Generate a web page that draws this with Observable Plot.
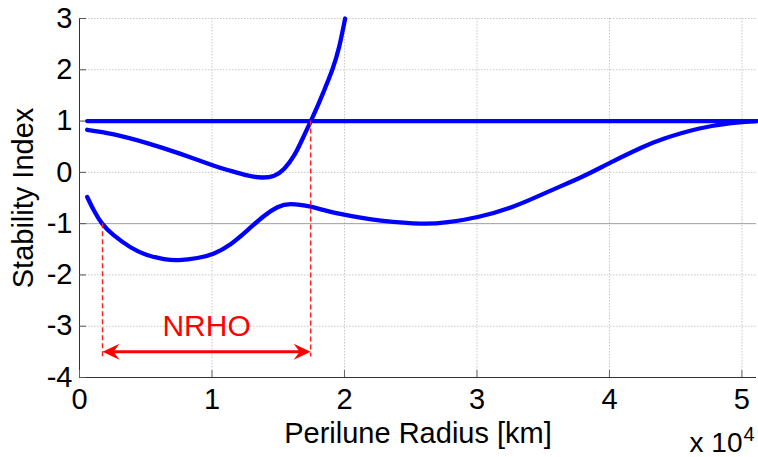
<!DOCTYPE html>
<html><head><meta charset="utf-8">
<script src="https://cdn.jsdelivr.net/npm/d3@7"></script>
<script src="https://cdn.jsdelivr.net/npm/@observablehq/plot@0.6"></script>
<style>body{margin:0;background:#fff} svg{display:block}</style>
</head><body><div id="chart"></div>
<script>
// x in units of 10^4 km
const xTicks = [0, 1, 2, 3, 4, 5];
const yTicks = [-4, -3, -2, -1, 0, 1, 2, 3];
const xDomain = [0, 5.11];
const yDomain = [-4, 3];

const flatX = [0.058, 5.11];
const flatY = [1, 1];

const upperX = [0.058, 0.26, 0.51, 0.763, 1.015, 1.14, 1.267, 1.38, 1.47, 1.545, 1.62, 1.683, 1.746, 1.80, 1.85, 1.908, 1.96, 2.005];
const upperY = [0.83, 0.74, 0.57, 0.36, 0.13, 0.03, -0.06, -0.10, -0.065, 0.07, 0.33, 0.65, 1.0, 1.31, 1.62, 2.0, 2.45, 3.0];

const lowerX = [0.058, 0.108, 0.171, 0.26, 0.385, 0.51, 0.637, 0.75, 0.89, 1.015, 1.14, 1.267, 1.393, 1.494, 1.595, 1.746, 1.897, 2.11, 2.275, 2.577, 2.78, 3.006, 3.28, 3.535, 3.79, 4.0, 4.24, 4.415, 4.67, 4.92, 5.11];
const lowerY = [-0.48, -0.74, -1.0, -1.23, -1.46, -1.61, -1.69, -1.71, -1.67, -1.58, -1.40, -1.13, -0.85, -0.68, -0.62, -0.67, -0.77, -0.88, -0.94, -1.0, -0.97, -0.87, -0.66, -0.38, -0.09, 0.18, 0.48, 0.66, 0.85, 0.96, 1.0];

const nrhoX = [0.174, 1.745];
const nrhoTop = [-1.0, 1.0];
const nrhoBottom = -3.6;
const arrowY = -3.5;
const nrhoLabel = "NRHO";
const nrhoLabelY = -3.0;
const refLineY = [-1];

const xLabel = "Perilune Radius [km]";
const yLabel = "Stability Index";
const xExpBase = "x 10";
const xExp = "4";

const toPts = (xs, ys) => xs.map((x, i) => ({x, y: ys[i]}));
const flat = toPts(flatX, flatY);
const upper = toPts(upperX, upperY);
const lower = toPts(lowerX, lowerY);
const dashes = nrhoX.map((x, i) => ({x, y1: nrhoTop[i], y2: nrhoBottom}));

const barb = {
  draw(ctx) {
    ctx.moveTo(0, 0);
    ctx.lineTo(17, -8);
    ctx.lineTo(11, 0);
    ctx.lineTo(17, 8);
    ctx.closePath();
  }
};

const font = "Liberation Sans, Arial, Helvetica, sans-serif";

const chart = Plot.plot({
  width: 758,
  height: 457,
  marginLeft: 79,
  marginRight: 2,
  marginTop: 18,
  marginBottom: 80,
  style: {fontFamily: font, background: "#fff", color: "#000"},
  x: {domain: xDomain, label: null},
  y: {domain: yDomain, label: null},
  marks: [
    Plot.gridX(xTicks.slice(1), {stroke: "#c8c8c8", strokeOpacity: 1, strokeDasharray: "1.5,1.5"}),
    Plot.gridY(yTicks.filter(d => d > -4 && d !== -1), {stroke: "#c8c8c8", strokeOpacity: 1, strokeDasharray: "1.5,1.5"}),
    Plot.ruleY(refLineY, {stroke: "#a0a0a0", strokeWidth: 1}),
    Plot.ruleX([xDomain[0]], {y1: yDomain[0], y2: yDomain[1], stroke: "#333"}),
    Plot.ruleY([yDomain[0]], {x1: xDomain[0], x2: xDomain[1], stroke: "#333"}),
    Plot.axisX(xTicks, {tickSize: -7, tickPadding: 18, fontSize: 29, stroke: "#666", tickFormat: d => String(d), label: null}),
    Plot.axisY(yTicks, {tickSize: -7, tickPadding: 14, fontSize: 29, stroke: "#555", tickFormat: d => String(d), label: null}),
    Plot.line(flat, {x: "x", y: "y", stroke: "#0000ff", strokeWidth: 4.3}),
    Plot.line(upper, {x: "x", y: "y", stroke: "#0000ff", strokeWidth: 4.3, curve: "natural"}),
    Plot.line(lower, {x: "x", y: "y", stroke: "#0000ff", strokeWidth: 4.3, curve: "natural"}),
    Plot.ruleX(dashes, {x: "x", y1: "y1", y2: "y2", stroke: "#ff2020", strokeWidth: 1.5, strokeDasharray: "5,3"}),
    Plot.ruleY([arrowY], {x1: nrhoX[0] + 0.05, x2: nrhoX[1] - 0.05, stroke: "red", strokeWidth: 3}),
    Plot.dot([{x: nrhoX[0], y: arrowY}], {x: "x", y: "y", symbol: barb, r: 5, fill: "red", stroke: "none", rotate: 0}),
    Plot.dot([{x: nrhoX[1], y: arrowY}], {x: "x", y: "y", symbol: barb, r: 5, fill: "red", stroke: "none", rotate: 180}),
    Plot.text([nrhoLabel], {x: (nrhoX[0] + nrhoX[1]) / 2, y: nrhoLabelY, text: d => d, fill: "red", fontSize: 30, lineAnchor: "middle"}),
    Plot.text([xLabel], {frameAnchor: "bottom", dy: 56, text: d => d, fontSize: 29, textAnchor: "middle", lineAnchor: "middle"}),
    Plot.text([yLabel], {frameAnchor: "left", dx: -56, rotate: -90, text: d => d, fontSize: 29, textAnchor: "middle", lineAnchor: "middle"}),
    Plot.text([xExpBase], {frameAnchor: "bottom-right", dx: -14, dy: 66, text: d => d, fontSize: 28, textAnchor: "end", lineAnchor: "middle"}),
    Plot.text([xExp], {frameAnchor: "bottom-right", dx: -13, dy: 57, text: d => d, fontSize: 20, textAnchor: "start", lineAnchor: "middle"})
  ]
});
document.getElementById("chart").appendChild(chart);
</script>
</body></html>
